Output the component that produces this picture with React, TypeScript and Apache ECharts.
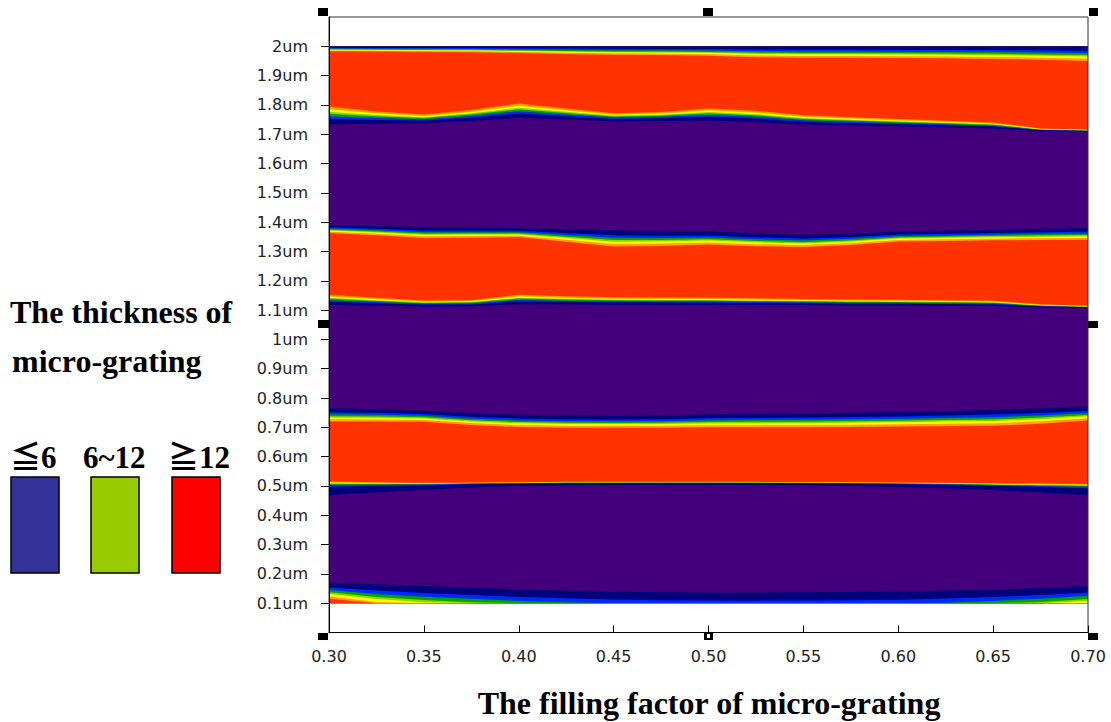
import React, { useEffect, useRef } from "react";
import * as echarts from "echarts";

// ---------- data ----------
const fillingFactor = [0.3, 0.325, 0.35, 0.375, 0.4, 0.425, 0.45, 0.475, 0.5, 0.525, 0.55, 0.575, 0.6, 0.625, 0.65, 0.675, 0.7];
const thicknessTicks = [0.1, 0.2, 0.3, 0.4, 0.5, 0.6, 0.7, 0.8, 0.9, 1.0, 1.1, 1.2, 1.3, 1.4, 1.5, 1.6, 1.7, 1.8, 1.9, 2.0];
const legendLabels = ["≦6", "6~12", "≧12"];

// contour edges (um): "Purple" = where the ≦6 region ends, "Red" = where the ≧12 region begins
const edge0Purple = [0.170, 0.165, 0.159, 0.153, 0.147, 0.143, 0.139, 0.137, 0.136, 0.136, 0.137, 0.138, 0.140, 0.143, 0.147, 0.152, 0.159];
const edge0Red = [0.115, 0.092, 0.079, 0.070, 0.062, 0.056, 0.052, 0.048, 0.046, 0.045, 0.045, 0.045, 0.046, 0.052, 0.062, 0.072, 0.085];

const edge1Purple = [0.469, 0.478, 0.487, 0.495, 0.500, 0.502, 0.503, 0.504, 0.504, 0.503, 0.502, 0.500, 0.496, 0.492, 0.486, 0.478, 0.469];
const edge1Red = [0.515, 0.513, 0.511, 0.512, 0.513, 0.514, 0.514, 0.514, 0.514, 0.514, 0.513, 0.513, 0.512, 0.511, 0.509, 0.508, 0.507];

const edge2Red = [0.720, 0.720, 0.719, 0.708, 0.701, 0.699, 0.699, 0.699, 0.700, 0.700, 0.700, 0.701, 0.703, 0.704, 0.705, 0.712, 0.723];
const edge2Purple = [0.765, 0.762, 0.757, 0.748, 0.743, 0.740, 0.739, 0.740, 0.745, 0.747, 0.748, 0.750, 0.752, 0.756, 0.760, 0.765, 0.771];

const edge3Purple = [1.118, 1.115, 1.112, 1.113, 1.120, 1.119, 1.118, 1.118, 1.118, 1.117, 1.117, 1.116, 1.116, 1.115, 1.114, 1.109, 1.107];
const edge3Red = [1.152, 1.142, 1.133, 1.134, 1.152, 1.147, 1.144, 1.143, 1.142, 1.140, 1.138, 1.136, 1.135, 1.134, 1.132, 1.120, 1.115];

const edge4Red = [1.363, 1.355, 1.346, 1.347, 1.349, 1.333, 1.317, 1.319, 1.324, 1.318, 1.315, 1.322, 1.334, 1.336, 1.338, 1.339, 1.340];
const edge4Purple = [1.391, 1.387, 1.383, 1.382, 1.380, 1.376, 1.372, 1.369, 1.368, 1.362, 1.357, 1.361, 1.368, 1.371, 1.374, 1.377, 1.380];

const edge5Purple = [1.733, 1.736, 1.738, 1.745, 1.756, 1.750, 1.744, 1.745, 1.747, 1.742, 1.733, 1.730, 1.727, 1.724, 1.720, 1.711, 1.709];
const edge5Red = [1.795, 1.778, 1.767, 1.783, 1.805, 1.788, 1.772, 1.776, 1.788, 1.780, 1.765, 1.758, 1.752, 1.746, 1.740, 1.720, 1.716];

const edge6Red = [1.983, 1.982, 1.981, 1.980, 1.977, 1.974, 1.971, 1.970, 1.968, 1.963, 1.961, 1.961, 1.960, 1.959, 1.957, 1.954, 1.950];
const edge6Purple = [2.0, 2.0, 2.0, 2.0, 2.0, 2.0, 2.0, 2.0, 2.0, 2.0, 2.0, 2.0, 2.0, 2.0, 2.0, 2.0, 2.0];

const DATA_MIN = 0.1;
const DATA_MAX = 2.0;

// ---------- styles ----------
const PURPLE = "#43007a";
const LEVEL_COLORS = ["#00007a", "#0028ff", "#00a400", "#8ed400", "#ffff00", "#ffa000", "#ff3300"];
const RAMP_SOFT = [0, 0.3, 0.46, 0.6, 0.7, 0.84, 1.0];
const RAMP_TAIL = [0, 0.62, 0.74, 0.82, 0.87, 0.93, 1.0];
const LEGEND_COLORS = ["#333399", "#99cc00", "#ff0000"];

type Edge = { purple: number[]; red: number[]; ramp: number[] };
const bands: { lower: Edge | null; upper: Edge }[] = [
  { lower: null, upper: { purple: edge0Purple, red: edge0Red, ramp: RAMP_SOFT } },
  { lower: { purple: edge1Purple, red: edge1Red, ramp: RAMP_TAIL }, upper: { purple: edge2Purple, red: edge2Red, ramp: RAMP_SOFT } },
  { lower: { purple: edge3Purple, red: edge3Red, ramp: RAMP_SOFT }, upper: { purple: edge4Purple, red: edge4Red, ramp: RAMP_SOFT } },
  { lower: { purple: edge5Purple, red: edge5Red, ramp: RAMP_SOFT }, upper: { purple: edge6Purple, red: edge6Red, ramp: RAMP_SOFT } },
];

const edgeAt = (e: Edge, i: number, k: number) => e.purple[i] + e.ramp[k] * (e.red[i] - e.purple[i]);
const clampY = (v: number) => Math.min(DATA_MAX, Math.max(DATA_MIN, v));

const serif = '"Liberation Serif", "Times New Roman", "Noto Sans CJK JP", serif';

function buildOption(): any {
  const handles = [
    [318, 8, 10, 8], [703, 8, 10, 8], [1089, 8, 9, 8],
    [318, 320, 11, 8], [1088, 321, 10, 7],
    [318, 633, 10, 7], [704, 633, 9, 7], [1088, 633, 10, 7],
  ];
  const graphic: any[] = [
    { type: "text", x: 10, y: 312, style: { text: "The thickness of", font: `bold 32px ${serif}`, fill: "#000", textAlign: "left", textVerticalAlign: "middle" } },
    { type: "text", x: 12, y: 361, style: { text: "micro-grating", font: `bold 32px ${serif}`, fill: "#000", textAlign: "left", textVerticalAlign: "middle" } },
    { type: "text", x: 709, y: 703, style: { text: "The filling factor of micro-grating", font: `bold 32px ${serif}`, fill: "#000", textAlign: "center", textVerticalAlign: "middle" } },
  ];
  const legendX = [10, 83, 168];
  const boxX = [11, 91, 172];
  legendLabels.forEach((t, i) => {
    graphic.push({ type: "text", x: legendX[i], y: 457, style: { text: t, font: `bold 31px ${serif}`, fill: "#000", textAlign: "left", textVerticalAlign: "middle" } });
    graphic.push({ type: "rect", shape: { x: boxX[i], y: 477, width: 48, height: 96 }, style: { fill: LEGEND_COLORS[i], stroke: "#000", lineWidth: 1.5 } });
  });
  handles.forEach(([x, y, w, h], idx) => {
    graphic.push({ type: "rect", z: 100, shape: { x, y, width: w, height: h }, style: { fill: "#000" } });
    if (idx === 6) graphic.push({ type: "rect", z: 101, shape: { x: x + 3, y: y + 1, width: 3, height: h - 3 }, style: { fill: "#fff" } });
  });

  return {
    animation: false,
    backgroundColor: "#fff",
    grid: { left: 329, right: 23, top: 17, bottom: 89.5, show: true, borderColor: "#333", borderWidth: 1, z: 5 },
    xAxis: {
      type: "value", min: 0.3, max: 0.7, interval: 0.05, z: 6,
      axisLine: { show: true, lineStyle: { color: "#000", width: 1 } },
      axisTick: { show: true, inside: true, length: 7, lineStyle: { color: "#000" } },
      axisLabel: { margin: 16, fontFamily: "DejaVu Sans", fontSize: 16, color: "#222", formatter: (v: number) => v.toFixed(2) },
      splitLine: { show: false },
    },
    yAxis: {
      type: "value", min: 0, max: 2.1, interval: 0.1, z: 6,
      axisLine: { show: true, onZero: false, lineStyle: { color: "#000", width: 1 } },
      axisTick: { show: true, inside: false, length: 8, customValues: thicknessTicks, lineStyle: { color: "#000" } },
      axisLabel: { margin: 21, fontFamily: "DejaVu Sans", fontSize: 16, color: "#222", customValues: thicknessTicks, formatter: (v: number) => `${parseFloat(v.toFixed(1))}um` },
      splitLine: { show: false },
    },
    graphic,
    series: [
      {
        type: "custom", silent: true, z: 1, clip: false,
        data: [[fillingFactor[0], DATA_MIN]],
        encode: { x: 0, y: 1 },
        renderItem: (_p: any, api: any) => {
          const pt = (x: number, y: number) => api.coord([x, clampY(y)]);
          const tl = api.coord([fillingFactor[0], DATA_MAX]);
          const br = api.coord([fillingFactor[fillingFactor.length - 1], DATA_MIN]);
          const children: any[] = [
            { type: "rect", shape: { x: tl[0], y: tl[1], width: br[0] - tl[0], height: br[1] - tl[1] }, style: { fill: PURPLE } },
          ];
          bands.forEach((b) => {
            LEVEL_COLORS.forEach((c, k) => {
              const lowerPts = fillingFactor.map((x, i) => pt(x, b.lower ? edgeAt(b.lower, i, k) : DATA_MIN));
              const upperPts = fillingFactor.map((x, i) => pt(x, edgeAt(b.upper, i, k))).reverse();
              children.push({ type: "polygon", shape: { points: lowerPts.concat(upperPts) }, style: { fill: c } });
            });
          });
          return { type: "group", children };
        },
      },
    ],
  };
}

export default function App() {
  const ref = useRef<HTMLDivElement>(null);
  useEffect(() => {
    const chart = echarts.init(ref.current!, null, { renderer: "svg" });
    chart.setOption(buildOption());
    return () => chart.dispose();
  }, []);
  return <div ref={ref} style={{ position: "fixed", left: 0, top: 0, width: 1111, height: 722, background: "#fff" }} />;
}
